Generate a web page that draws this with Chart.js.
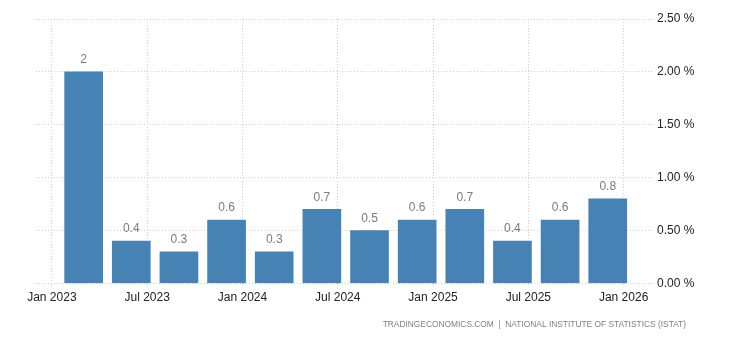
<!DOCTYPE html>
<html>
<head>
<meta charset="utf-8">
<script src="https://cdn.jsdelivr.net/npm/chart.js@4/dist/chart.umd.min.js"></script>
<style>
  html, body { margin: 0; padding: 0; background: #fff; }
  #wrap { width: 730px; height: 340px; position: relative; }
</style>
</head>
<body>
<div id="wrap"><canvas id="chart"></canvas></div>
<script>
// months since Jan 2023 for each quarterly bar
const barMonths = [2, 5, 8, 11, 14, 17, 20, 23, 26, 29, 32, 35];
const gdpValues = [2, 0.4, 0.3, 0.6, 0.3, 0.7, 0.5, 0.6, 0.7, 0.4, 0.6, 0.8];
const tickMonths = [0, 6, 12, 18, 24, 30, 36];
const tickLabels = ['Jan 2023', 'Jul 2023', 'Jan 2024', 'Jul 2024', 'Jan 2025', 'Jul 2025', 'Jan 2026'];
const sourceText = 'TRADINGECONOMICS.COM  |  NATIONAL INSTITUTE OF STATISTICS (ISTAT)';

const FONT = "'Liberation Sans', Arial, sans-serif";

// etichette sopra le barre + testo fonte in basso
const labelsPlugin = {
    id: 'labelsPlugin',
    afterDatasetsDraw(chart) {
        const ctx = chart.ctx;
        const meta = chart.getDatasetMeta(0);
        ctx.save();
        ctx.font = '12px ' + FONT;
        ctx.fillStyle = '#7a7a85';
        ctx.textAlign = 'center';
        ctx.textBaseline = 'middle';
        meta.data.forEach((bar, i) => {
            ctx.fillText(String(gdpValues[i]), bar.x, bar.y - 12);
        });
        ctx.font = '8.4px ' + FONT;
        ctx.fillStyle = '#7f7f8a';
        ctx.textAlign = 'right';
        ctx.fillText(sourceText, 686, 325);
        ctx.restore();
    }
};

const ctx = document.getElementById('chart');
new Chart(ctx, {
    type: 'bar',
    data: {
        datasets: [{
            data: barMonths.map((m, i) => ({ x: m, y: gdpValues[i] })),
            backgroundColor: '#4682b4',
            barThickness: 38
        }]
    },
    options: {
        responsive: true,
        maintainAspectRatio: false,
        animation: false,
        layout: { padding: { left: 36, right: 0, top: 19, bottom: 0 } },
        plugins: {
            legend: { display: false },
            tooltip: { enabled: false }
        },
        scales: {
            x: {
                type: 'linear',
                offset: false,
                min: -1,
                max: 37.85,
                afterBuildTicks: axis => { axis.ticks = tickMonths.map(v => ({ value: v })); },
                afterFit: axis => { axis.height = 56.5; },
                grid: {
                    offset: false,
                    color: '#d0d0d0',
                    tickLength: 4,
                    tickBorderDash: [1, 2],
                    tickColor: '#d0d0d0'
                },
                border: { display: false, dash: [1, 2] },
                ticks: {
                    autoSkip: false,
                    maxRotation: 0,
                    padding: 3,
                    color: '#222',
                    font: { family: FONT, size: 12 },
                    callback: v => tickLabels[tickMonths.indexOf(v)]
                }
            },
            y: {
                position: 'right',
                min: 0,
                max: 2.5,
                afterFit: axis => { axis.width = 77; },
                grid: { color: '#d0d0d0', drawTicks: false },
                border: { display: false, dash: [1, 2] },
                ticks: {
                    stepSize: 0.5,
                    padding: 4,
                    color: '#222',
                    font: { family: FONT, size: 12 },
                    callback: v => v.toFixed(2) + ' %'
                }
            }
        }
    },
    plugins: [labelsPlugin]
});
</script>
</body>
</html>
